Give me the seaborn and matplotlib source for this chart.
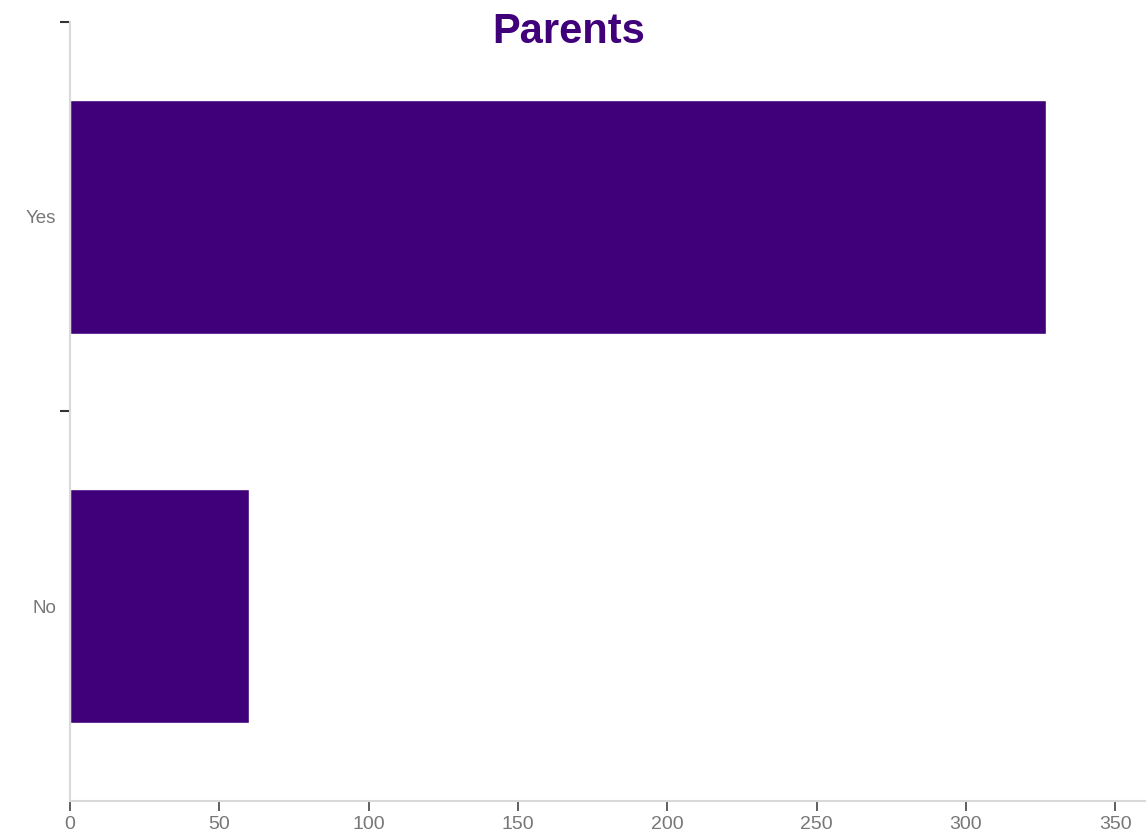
import matplotlib
matplotlib.use("Agg")
import matplotlib.pyplot as plt
import seaborn as sns
import pandas as pd

# data
categories = ["Yes", "No"]
counts = [327, 60]

bar_color = "#40007a"

sns.set_theme(style="white")
plt.rcParams["font.family"] = ["Liberation Sans", "DejaVu Sans"]

df = pd.DataFrame({"answer": categories, "count": counts})

fig = plt.figure(figsize=(11.48, 8.35), dpi=100)
ax = fig.add_axes([0.061, 0.0407, 0.9364, 0.933])

sns.barplot(data=df, y="answer", x="count", orient="h", color=bar_color,
            saturation=1, width=0.6, ax=ax)

ax.set_xlim(0, 360)
ax.set_ylim(1.5, -0.5)
ax.set_xticks(range(0, 351, 50))
ax.set_xlabel("")
ax.set_ylabel("")

# category labels at centres, tick marks at band boundaries
ax.set_yticks([0, 1])
ax.set_yticklabels(categories)
ax.tick_params(axis="y", length=0, pad=10, labelsize=13.5, labelcolor="#777777")
ax.set_yticks([-0.5, 0.5], minor=True)
ax.tick_params(axis="y", which="minor", length=7, width=1.5, color="#333333", left=True)
ax.tick_params(axis="x", length=7, width=1.2, color="#444444", bottom=True,
               labelsize=14, labelcolor="#777777", pad=4)

for side in ["top", "right"]:
    ax.spines[side].set_visible(False)
for side in ["left", "bottom"]:
    ax.spines[side].set_color("#d9d9d9")
    ax.spines[side].set_linewidth(1.5)

fig.suptitle("Parents", x=0.495, y=0.962, va="center", fontsize=30,
             fontweight="bold", color=bar_color)

plt.savefig("out.png", dpi=100)
plt.close()
